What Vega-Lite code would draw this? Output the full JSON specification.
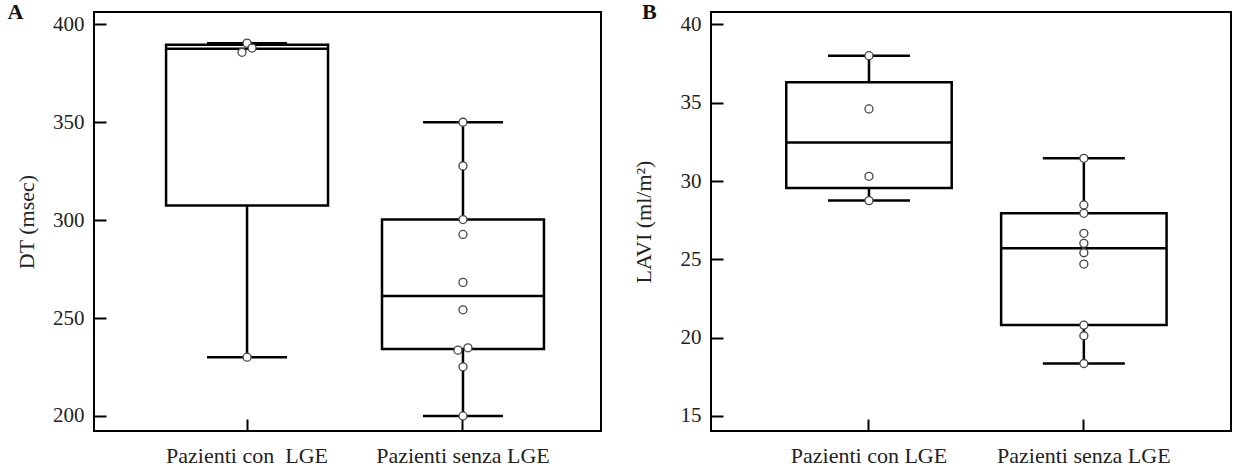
{
  "$schema": "https://vega.github.io/schema/vega-lite/v6.json",
  "background": "white",
  "padding": {"left": 6, "top": 0, "right": 10, "bottom": 0},
  "spacing": 29,
  "datasets": {
    "pts": [
      {"panel": "A", "group": "Pazienti con\u00a0 LGE", "value": 390.4, "jitter": 0},
      {"panel": "A", "group": "Pazienti con\u00a0 LGE", "value": 387.9, "jitter": 1},
      {"panel": "A", "group": "Pazienti con\u00a0 LGE", "value": 385.7, "jitter": -1},
      {"panel": "A", "group": "Pazienti con\u00a0 LGE", "value": 230.0, "jitter": 0},
      {"panel": "A", "group": "Pazienti senza LGE", "value": 350.0, "jitter": 0},
      {"panel": "A", "group": "Pazienti senza LGE", "value": 327.7, "jitter": 0},
      {"panel": "A", "group": "Pazienti senza LGE", "value": 300.3, "jitter": 0},
      {"panel": "A", "group": "Pazienti senza LGE", "value": 292.7, "jitter": 0},
      {"panel": "A", "group": "Pazienti senza LGE", "value": 268.2, "jitter": 0},
      {"panel": "A", "group": "Pazienti senza LGE", "value": 254.2, "jitter": 0},
      {"panel": "A", "group": "Pazienti senza LGE", "value": 234.8, "jitter": 1},
      {"panel": "A", "group": "Pazienti senza LGE", "value": 233.6, "jitter": -1},
      {"panel": "A", "group": "Pazienti senza LGE", "value": 225.1, "jitter": 0},
      {"panel": "A", "group": "Pazienti senza LGE", "value": 200.0, "jitter": 0},
      {"panel": "B", "group": "Pazienti con LGE", "value": 38.0, "jitter": 0},
      {"panel": "B", "group": "Pazienti con LGE", "value": 34.6, "jitter": 0},
      {"panel": "B", "group": "Pazienti con LGE", "value": 30.3, "jitter": 0},
      {"panel": "B", "group": "Pazienti con LGE", "value": 28.75, "jitter": 0},
      {"panel": "B", "group": "Pazienti senza LGE", "value": 31.45, "jitter": 0},
      {"panel": "B", "group": "Pazienti senza LGE", "value": 28.47, "jitter": 0},
      {"panel": "B", "group": "Pazienti senza LGE", "value": 27.94, "jitter": 0},
      {"panel": "B", "group": "Pazienti senza LGE", "value": 26.66, "jitter": 0},
      {"panel": "B", "group": "Pazienti senza LGE", "value": 26.02, "jitter": 0},
      {"panel": "B", "group": "Pazienti senza LGE", "value": 25.42, "jitter": 0},
      {"panel": "B", "group": "Pazienti senza LGE", "value": 24.7, "jitter": 0},
      {"panel": "B", "group": "Pazienti senza LGE", "value": 20.8, "jitter": 0},
      {"panel": "B", "group": "Pazienti senza LGE", "value": 20.12, "jitter": 0},
      {"panel": "B", "group": "Pazienti senza LGE", "value": 18.35, "jitter": 0}
    ],
    "stats": [
      {"panel": "A", "group": "Pazienti con\u00a0 LGE", "lo": 230.0, "q1": 307.5, "med": 387.5, "q3": 389.6, "hi": 390.4},
      {"panel": "A", "group": "Pazienti senza LGE", "lo": 200.0, "q1": 234.2, "med": 261.3, "q3": 300.3, "hi": 350.0},
      {"panel": "B", "group": "Pazienti con LGE", "lo": 28.75, "q1": 29.56, "med": 32.46, "q3": 36.31, "hi": 38.0},
      {"panel": "B", "group": "Pazienti senza LGE", "lo": 18.35, "q1": 20.8, "med": 25.7, "q3": 27.94, "hi": 31.45}
    ]
  },
  "config": {
    "font": "Liberation Serif",
    "view": {"stroke": "black", "strokeWidth": 2},
    "axis": {
      "labelFont": "Liberation Serif", "titleFont": "Liberation Serif",
      "labelFontSize": 21, "titleFontSize": 22, "titleFontWeight": "normal",
      "labelColor": "#222", "titleColor": "#222",
      "tickColor": "black", "tickWidth": 2, "tickSize": -12,
      "domain": false, "grid": false
    },
    "axisY": {"labelPadding": 22},
    "axisX": {"labelPadding": 26, "labelFontSize": 22},
    "title": {"font": "Liberation Serif", "fontSize": 22, "fontWeight": "bold", "color": "#111", "anchor": "start", "frame": "bounds", "baseline": "alphabetic", "offset": -12}
  },
  "hconcat": [
    {
      "width": 507, "height": 419,
      "title": {"text": "A", "dx": -8},
      "layer": [
        {
          "data": {"name": "stats"}, "transform": [{"filter": "datum.panel === 'A'"}],
          "mark": {"type": "rule", "stroke": "black", "strokeWidth": 2.5},
          "encoding": {
            "x": {"field": "group", "type": "nominal", "scale": {"type": "band", "paddingInner": 0, "paddingOuter": 0.174, "align": 0.6}, "axis": {"title": null, "labelAngle": 0}},
            "y": {"field": "lo", "type": "quantitative", "scale": {"domain": [192.3, 406.3], "nice": false, "zero": false}, "axis": {"title": "DT (msec)", "values": [200, 250, 300, 350, 400], "titlePadding": 14}},
            "y2": {"field": "hi"}
          }
        },
        {
          "data": {"name": "stats"}, "transform": [{"filter": "datum.panel === 'A'"}],
          "mark": {"type": "bar", "fill": "white", "stroke": "black", "strokeWidth": 2.5, "width": {"band": 0.75}},
          "encoding": {"x": {"field": "group", "type": "nominal"}, "y": {"field": "q1", "type": "quantitative"}, "y2": {"field": "q3"}}
        },
        {
          "data": {"name": "stats"}, "transform": [{"filter": "datum.panel === 'A'"}],
          "mark": {"type": "tick", "color": "black", "size": 162, "thickness": 2.5, "opacity": 1},
          "encoding": {"x": {"field": "group", "type": "nominal"}, "y": {"field": "med", "type": "quantitative"}}
        },
        {
          "data": {"name": "stats"}, "transform": [{"filter": "datum.panel === 'A'"}],
          "mark": {"type": "tick", "color": "black", "size": 80, "thickness": 2.5, "opacity": 1},
          "encoding": {"x": {"field": "group", "type": "nominal"}, "y": {"field": "lo", "type": "quantitative"}}
        },
        {
          "data": {"name": "stats"}, "transform": [{"filter": "datum.panel === 'A'"}],
          "mark": {"type": "tick", "color": "black", "size": 80, "thickness": 2.5, "opacity": 1},
          "encoding": {"x": {"field": "group", "type": "nominal"}, "y": {"field": "hi", "type": "quantitative"}}
        },
        {
          "data": {"name": "pts"}, "transform": [{"filter": "datum.panel === 'A'"}],
          "mark": {"type": "point", "shape": "circle", "filled": true, "fill": "white", "stroke": "#444", "strokeWidth": 1.3, "size": 64, "opacity": 1, "xOffset": {"expr": "datum.jitter * 5"}},
          "encoding": {
            "x": {"field": "group", "type": "nominal"},
            "y": {"field": "value", "type": "quantitative"}
          }
        }
      ]
    },
    {
      "width": 520, "height": 419,
      "title": {"text": "B", "dx": 10},
      "layer": [
        {
          "data": {"name": "stats"}, "transform": [{"filter": "datum.panel === 'B'"}],
          "mark": {"type": "rule", "stroke": "black", "strokeWidth": 2.5},
          "encoding": {
            "x": {"field": "group", "type": "nominal", "scale": {"type": "band", "paddingInner": 0, "paddingOuter": 0.21, "align": 0.56}, "axis": {"title": null, "labelAngle": 0}},
            "y": {"field": "lo", "type": "quantitative", "scale": {"domain": [14.04, 40.79], "nice": false, "zero": false}, "axis": {"title": "LAVI (ml/m²)", "values": [15, 20, 25, 30, 35, 40], "titlePadding": 25}},
            "y2": {"field": "hi"}
          }
        },
        {
          "data": {"name": "stats"}, "transform": [{"filter": "datum.panel === 'B'"}],
          "mark": {"type": "bar", "fill": "white", "stroke": "black", "strokeWidth": 2.5, "width": {"band": 0.77}},
          "encoding": {"x": {"field": "group", "type": "nominal"}, "y": {"field": "q1", "type": "quantitative"}, "y2": {"field": "q3"}}
        },
        {
          "data": {"name": "stats"}, "transform": [{"filter": "datum.panel === 'B'"}],
          "mark": {"type": "tick", "color": "black", "size": 166, "thickness": 2.5, "opacity": 1},
          "encoding": {"x": {"field": "group", "type": "nominal"}, "y": {"field": "med", "type": "quantitative"}}
        },
        {
          "data": {"name": "stats"}, "transform": [{"filter": "datum.panel === 'B'"}],
          "mark": {"type": "tick", "color": "black", "size": 82, "thickness": 2.5, "opacity": 1},
          "encoding": {"x": {"field": "group", "type": "nominal"}, "y": {"field": "lo", "type": "quantitative"}}
        },
        {
          "data": {"name": "stats"}, "transform": [{"filter": "datum.panel === 'B'"}],
          "mark": {"type": "tick", "color": "black", "size": 82, "thickness": 2.5, "opacity": 1},
          "encoding": {"x": {"field": "group", "type": "nominal"}, "y": {"field": "hi", "type": "quantitative"}}
        },
        {
          "data": {"name": "pts"}, "transform": [{"filter": "datum.panel === 'B'"}],
          "mark": {"type": "point", "shape": "circle", "filled": true, "fill": "white", "stroke": "#444", "strokeWidth": 1.3, "size": 64, "opacity": 1, "xOffset": {"expr": "datum.jitter * 5"}},
          "encoding": {
            "x": {"field": "group", "type": "nominal"},
            "y": {"field": "value", "type": "quantitative"}
          }
        }
      ]
    }
  ]
}
